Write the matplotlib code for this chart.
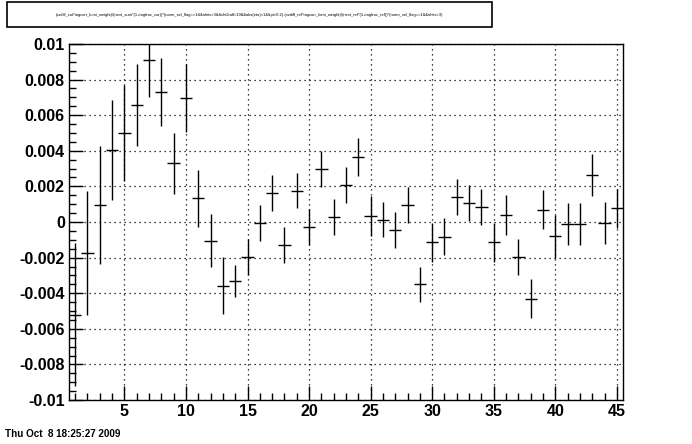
import matplotlib.pyplot as plt
from matplotlib.ticker import MultipleLocator, FixedLocator
from matplotlib.patches import Rectangle

plt.rcParams['font.family'] = ['Liberation Sans', 'DejaVu Sans']

# bin centres and contents
bins = list(range(1, 46))
valores = [-0.0052, -0.00175, 0.00096, 0.00404, 0.00498, 0.00655, 0.0091, 0.0073, 0.0033, 0.00695,
           0.00133, -0.00105, -0.00358, -0.0033, -0.00195, -0.00004, 0.00162, -0.0013, 0.00176, -0.00028,
           0.00298, 0.00028, 0.00208, 0.00365, 0.00034, 0.00013, -0.00045, 0.00095, -0.0035, -0.00115,
           -0.00083, 0.0014, 0.00107, 0.00084, -0.00113, 0.00039, -0.00196, -0.0043, 0.00068, -0.0008,
           -0.00012, -0.00012, 0.00264, -0.00006, 0.00077]
errores = [0.0040, 0.0035, 0.0033, 0.0028, 0.0027, 0.0023, 0.0021, 0.0019, 0.0017, 0.0019,
           0.0016, 0.0015, 0.0016, 0.0009, 0.0010, 0.0010, 0.0010, 0.0010, 0.0010, 0.0010,
           0.0010, 0.0010, 0.0010, 0.00105, 0.0011, 0.0010, 0.0010, 0.0010, 0.0010, 0.0011,
           0.00105, 0.00103, 0.0010, 0.0010, 0.0011, 0.0011, 0.0010, 0.0011, 0.0011, 0.0012,
           0.0012, 0.0012, 0.0012, 0.00116, 0.0011]

y_ticks = [-0.01, -0.008, -0.006, -0.004, -0.002, 0, 0.002, 0.004, 0.006, 0.008, 0.01]
y_labels = ["-0.01", "-0.008", "-0.006", "-0.004", "-0.002", "0", "0.002", "0.004", "0.006", "0.008", "0.01"]
x_ticks = [5, 10, 15, 20, 25, 30, 35, 40, 45]

titulo = ("(vzdiff_cut*tagcorr_lumi_weight)/(nevt_sum*(1+tagfrac_cor))*(norm_sel_flag==1&&nhits>3&&chi2ndf<10"
          "&&abs(eta)<1&&pt>0.2)-(vzdiff_ref*tagcorr_lumi_weight)/(nevt_ref*(1+tagfrac_ref))*(norm_sel_flag==1&&nhits>3)")
fecha = "Thu Oct  8 18:25:27 2009"

fig = plt.figure(figsize=(6.92, 4.44), dpi=100)
ax = fig.add_axes([69/692, 1 - 400/444, (623 - 69)/692, (400 - 44)/444])

ax.errorbar(bins, valores, xerr=0.5, yerr=errores, fmt='none',
            ecolor='black', elinewidth=1.0, capsize=0)

ax.set_xlim(0.5, 45.5)
ax.set_ylim(-0.01, 0.01)

ax.xaxis.set_major_locator(FixedLocator(x_ticks))
ax.xaxis.set_minor_locator(MultipleLocator(1))
ax.set_yticks(y_ticks)
ax.set_yticklabels(y_labels)
ax.yaxis.set_minor_locator(MultipleLocator(0.0005))

ax.tick_params(which='both', direction='in', top=False, right=False, width=1, color='black')
ax.tick_params(which='major', length=10, labelsize=11.5, pad=3)
ax.tick_params(which='minor', length=5)
for lab in ax.get_xticklabels() + ax.get_yticklabels():
    lab.set_fontweight('bold')

ax.grid(True, which='major', linestyle=(0, (1, 3)), color='black', linewidth=0.9)
for s in ax.spines.values():
    s.set_linewidth(1.0)

# caja del titulo
fig.patches.append(Rectangle((7/692, 1 - 27/444), (492 - 7)/692, 25/444, transform=fig.transFigure,
                             fill=False, edgecolor='black', linewidth=1.2))
fig.text(249/692, 1 - 15/444, titulo, fontsize=2.9, ha='center', va='center')

fig.text(5/692, 1 - 434/444, fecha, fontsize=7.1, fontweight='bold', ha='left', va='center')

fig.savefig("out.png", dpi=100)
